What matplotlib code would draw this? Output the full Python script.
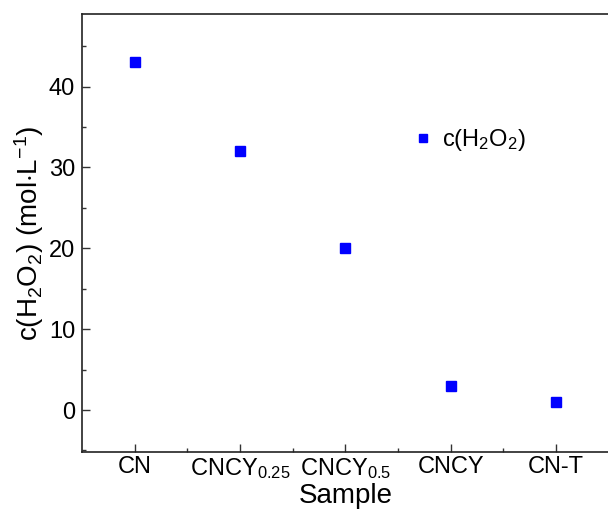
import matplotlib
matplotlib.use('Agg')
import matplotlib.pyplot as plt
from matplotlib.ticker import MultipleLocator

plt.rcParams['font.family'] = ['Liberation Sans', 'DejaVu Sans']
plt.rcParams['mathtext.fontset'] = 'custom'
plt.rcParams['mathtext.rm'] = 'Liberation Sans'
plt.rcParams['mathtext.it'] = 'Liberation Sans'

# data
samples = ['CN', r'CNCY$_{\mathregular{0.25}}$', r'CNCY$_{\mathregular{0.5}}$', 'CNCY', 'CN-T']
h2o2 = [43, 32, 20, 3, 1]
positions = [1, 2, 3, 4, 5]

fig = plt.figure(figsize=(6.08, 5.12), dpi=100)
ax = fig.add_axes([0.135, 0.117, 0.866, 0.856])

ax.plot(positions, h2o2, 's', color='#0000ff', markersize=7.5, linestyle='none',
        label=r'c(H$_\mathregular{2}$O$_\mathregular{2}$)')

ax.set_xlim(0.5, 5.5)
ax.set_ylim(-5.2, 49)
ax.set_xticks(positions)
ax.set_xticklabels(samples)
ax.set_xticks([1.5, 2.5, 3.5, 4.5], minor=True)
ax.yaxis.set_major_locator(MultipleLocator(10))
ax.yaxis.set_minor_locator(MultipleLocator(5))

ax.tick_params(which='both', direction='in', labelsize=17, width=1, color='#333333')
ax.tick_params(which='major', length=6)
ax.tick_params(which='minor', length=3)
ax.tick_params(axis='x', pad=3)
ax.tick_params(axis='y', pad=5)
for s in ax.spines.values():
    s.set_linewidth(1.2)
    s.set_color('#222222')
ax.spines['right'].set_visible(False)

ax.set_xlabel('Sample', fontsize=20, labelpad=1)
ax.set_ylabel(r'c(H$_\mathregular{2}$O$_\mathregular{2}$) (mol$\cdot$L$^{\mathregular{-1}}$)', fontsize=20, labelpad=2)

ax.legend(loc='center left', bbox_to_anchor=(0.585, 0.712), frameon=False, fontsize=17,
          markerscale=0.8, handlelength=1.0, handletextpad=0.3)

fig.savefig('out.png', dpi=100)
